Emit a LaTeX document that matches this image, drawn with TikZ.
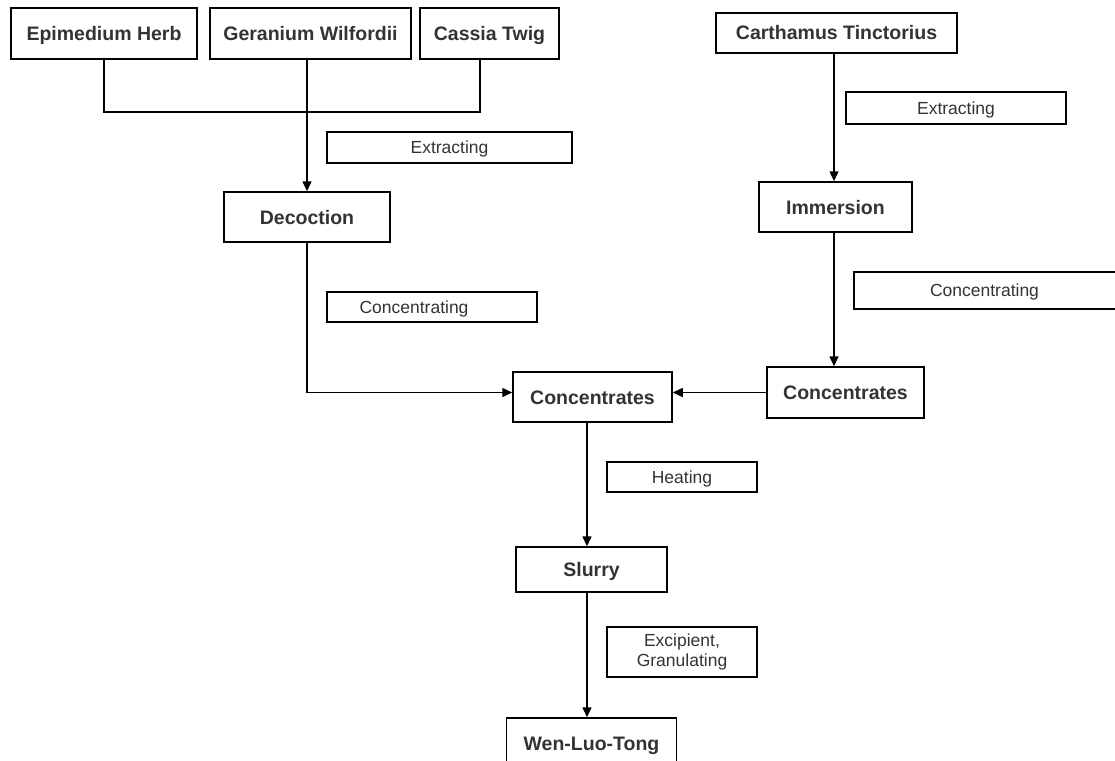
\documentclass[tikz,border=0pt]{standalone}
\usepackage{fontspec}
\setmainfont{Liberation Sans}
\usetikzlibrary{arrows.meta}
\definecolor{txtgray}{HTML}{333333}

\begin{document}
\begin{tikzpicture}[x=1pt,y=-1pt,
    stage/.style={draw, line width=1.5pt, text=txtgray, inner sep=0pt,
      text height=14pt, text depth=0pt,
      font=\fontsize{19.5}{22}\selectfont\bfseries},
    note/.style={draw, line width=1.5pt, text=txtgray, inner sep=0pt, align=center,
      font=\fontsize{17.5}{20}\selectfont},
    oneline/.style={text height=12.5pt, text depth=0pt},
    flow/.style={line width=1.5pt, -{Triangle[length=10pt,width=9pt]}}]
      \clip (0,0) rectangle (1115,760);
      \fill[white] (0,0) rectangle (1115,760);
      \node[stage, minimum width=186pt, minimum height=51pt] (herb) at (104,33.5) {Epimedium Herb};
      \node[stage, minimum width=201pt, minimum height=51pt] (ger) at (310.5,33.5) {Geranium Wilfordii};
      \node[stage, minimum width=139pt, minimum height=51pt] (cassia) at (489.5,33.5) {Cassia Twig};
      \node[stage, minimum width=241pt, minimum height=40pt] (car) at (836.5,33) {Carthamus Tinctorius};
      \node[stage, minimum width=153pt, minimum height=50pt] (imm) at (835.5,207) {Immersion};
      \node[stage, minimum width=166pt, minimum height=50pt] (dec) at (307,217) {Decoction};
      \node[stage, minimum width=159pt, minimum height=50pt] (concC) at (592.5,397) {Concentrates};
      \node[stage, minimum width=157pt, minimum height=51pt] (concR) at (845.5,392.5) {Concentrates};
      \node[stage, minimum width=151pt, minimum height=45pt] (slurry) at (591.5,569.5) {Slurry};
      \node[stage, minimum width=170pt, minimum height=50pt] (wlt) at (591.5,743) {Wen-Luo-Tong};
      % process notes
      \node[note, oneline, minimum width=245pt, minimum height=31pt] (ext1) at (449.5,147.5) {Extracting};
      \node[note, oneline, minimum width=210pt, minimum height=30pt] (con1) at (432,307) {Concentrating\hspace{36pt}};
      \node[note, oneline, minimum width=220pt, minimum height=32pt] (ext2) at (956,108) {Extracting};
      \node[note, oneline, minimum width=266pt, minimum height=37pt] (con2) at (987,290.5) {Concentrating\hspace{5pt}};
      \node[note, oneline, minimum width=150pt, minimum height=30pt] (heat) at (682,477) {Heating};
      \node[note, minimum width=150pt, minimum height=50pt] (exc) at (682,652) {Excipient,\\Granulating};
      \coordinate (jn) at (480,112);
      \coordinate (rx) at (834,0);
      \coordinate (trunk) at (587,0);
      \draw[line width=1.5pt] (herb.south) |- (jn) -- (jn |- cassia.south);
      \draw[flow] (dec.north |- ger.south) -- (dec.north);
      \draw[flow] (dec.south) |- (concR.west -| concC.west);
      \draw[flow] (concR.west) -- (concR.west -| concC.east);
      \draw[flow] (car.south -| rx) -- (imm.north -| rx);
      \draw[flow] (imm.south -| rx) -- (concR.north -| rx);
      \draw[flow] (concC.south -| trunk) -- (slurry.north -| trunk);
      \draw[flow] (slurry.south -| trunk) -- (wlt.north -| trunk);
\end{tikzpicture}
\end{document}
